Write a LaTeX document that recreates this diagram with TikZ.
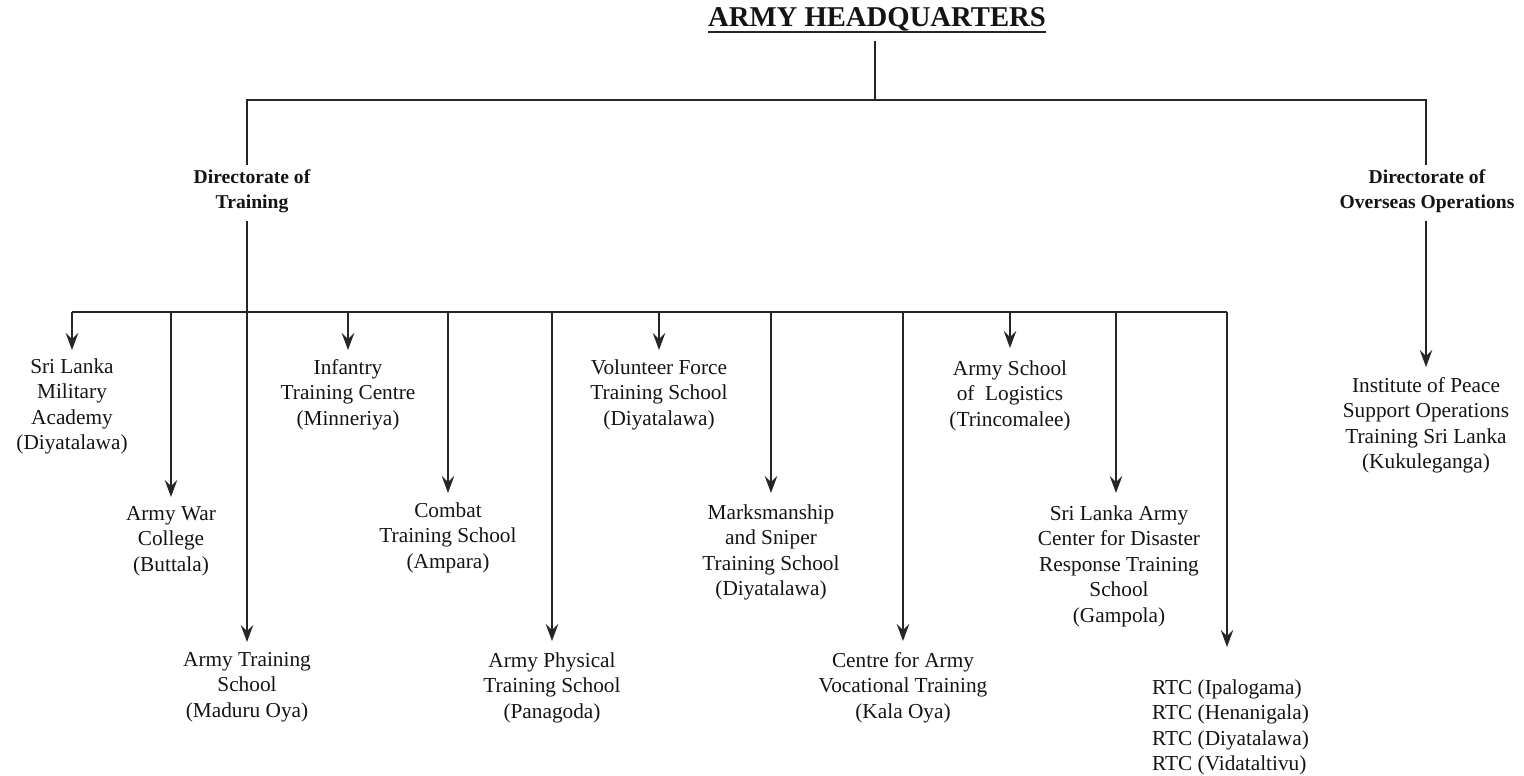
\documentclass[tikz,border=0pt]{standalone}
\usepackage{fontspec}
\setmainfont{Liberation Serif}
\usetikzlibrary{arrows.meta}
\newcommand\fl{\rule{0pt}{18pt}}
\tikzset{
  conn/.style={line width=1.2pt, black!85},
  arr/.style={conn, -{Stealth[length=17pt,width=12.5pt,inset=6pt]}},
  lbl/.style={inner sep=0pt, anchor=north, align=center, text=black!92,
    font=\fontsize{21.3pt}{25.5pt}\selectfont},
  dir/.style={inner sep=0pt, anchor=north, align=center, text=black!92,
    font=\fontsize{19.6pt}{25pt}\selectfont\bfseries},
  ttl/.style={inner sep=0pt, anchor=base, text=black!92,
    font=\fontsize{28.7pt}{30pt}\selectfont\bfseries}
}
\begin{document}
\begin{tikzpicture}[x=1pt,y=-1pt]
\useasboundingbox (0,0) rectangle (1524,776);
% title
\node[ttl] (hq) at (877,27) {ARMY HEADQUARTERS};
\draw[line width=1.5pt, black!85] ([yshift=-5pt]hq.base west) -- ([yshift=-5pt]hq.base east);
\coordinate (hqb) at (875,41);
\coordinate (j0) at (875,100);
\coordinate (lc) at (247,100);
\coordinate (rc) at (1426,100);
\coordinate (dtt) at (247,165);
\coordinate (dot) at (1426,165);
\draw[conn] (hqb) -- (j0);
\draw[conn] (dtt) -- (lc) -- (rc) -- (dot);
% directorates (first baseline = y + 18)
\node[dir] (dt) at (252,165) {\fl Directorate of\\Training};
\node[dir] (do) at (1427,165) {\fl Directorate of\\Overseas Operations};
\coordinate (dtb) at (247,221);
\coordinate (dob) at (1426,221);
% training bus
\coordinate (b1) at (72,312);
\coordinate (b2) at (171,312);
\coordinate (b3) at (247,312);
\coordinate (b4) at (348,312);
\coordinate (b5) at (448,312);
\coordinate (b6) at (552,312);
\coordinate (b7) at (659,312);
\coordinate (b8) at (771,312);
\coordinate (b9) at (903,312);
\coordinate (b10) at (1010,312);
\coordinate (b11) at (1116,312);
\coordinate (b12) at (1227,312);
\draw[conn] (dtb) -- (b3);
\draw[conn] (b1) -- (b12);
% tips
\coordinate (t1) at (72,350);
\coordinate (t2) at (171,497);
\coordinate (t3) at (247,642);
\coordinate (t4) at (348,350);
\coordinate (t5) at (448,493);
\coordinate (t6) at (552,641);
\coordinate (t7) at (659,350);
\coordinate (t8) at (771,493);
\coordinate (t9) at (903,641);
\coordinate (t10) at (1010,348);
\coordinate (t11) at (1116,493);
\coordinate (t12) at (1227,647);
\coordinate (t13) at (1426,367);
\foreach \i in {1,...,12} {\draw[arr] (b\i) -- (t\i);}
\draw[arr] (dob) -- (t13);
% units (first baseline = y + 18)
\node[lbl] (slma) at (72,355) {\fl Sri Lanka\\Military\\Academy\\(Diyatalawa)};
\node[lbl] (awc) at (171,502) {\fl Army War\\College\\(Buttala)};
\node[lbl] (ats) at (247,648) {\fl Army Training\\School\\(Maduru Oya)};
\node[lbl] (itc) at (348,356) {\fl Infantry\\Training Centre\\(Minneriya)};
\node[lbl] (cts) at (448,499) {\fl Combat\\Training School\\(Ampara)};
\node[lbl] (apts) at (552,649) {\fl Army Physical\\Training School\\(Panagoda)};
\node[lbl] (vfts) at (659,356) {\fl Volunteer Force\\Training School\\(Diyatalawa)};
\node[lbl] (msts) at (771,501) {\fl Marksmanship\\and Sniper\\Training School\\(Diyatalawa)};
\node[lbl] (cavt) at (903,649) {\fl Centre for Army\\Vocational Training\\(Kala Oya)};
\node[lbl] (asl) at (1010,357) {\fl Army School\\of\ \ Logistics\\(Trincomalee)};
\node[lbl] (slacdr) at (1119,502) {\fl Sri Lanka Army\\Center for Disaster\\Response Training\\School\\(Gampola)};
\node[lbl, align=left, anchor=north west] (rtc) at (1152,676) {\fl RTC (Ipalogama)\\RTC (Henanigala)\\RTC (Diyatalawa)\\RTC (Vidataltivu)};
\node[lbl] (ipso) at (1426,374) {\fl Institute of Peace\\Support Operations\\Training Sri Lanka\\(Kukuleganga)};
\end{tikzpicture}
\end{document}
